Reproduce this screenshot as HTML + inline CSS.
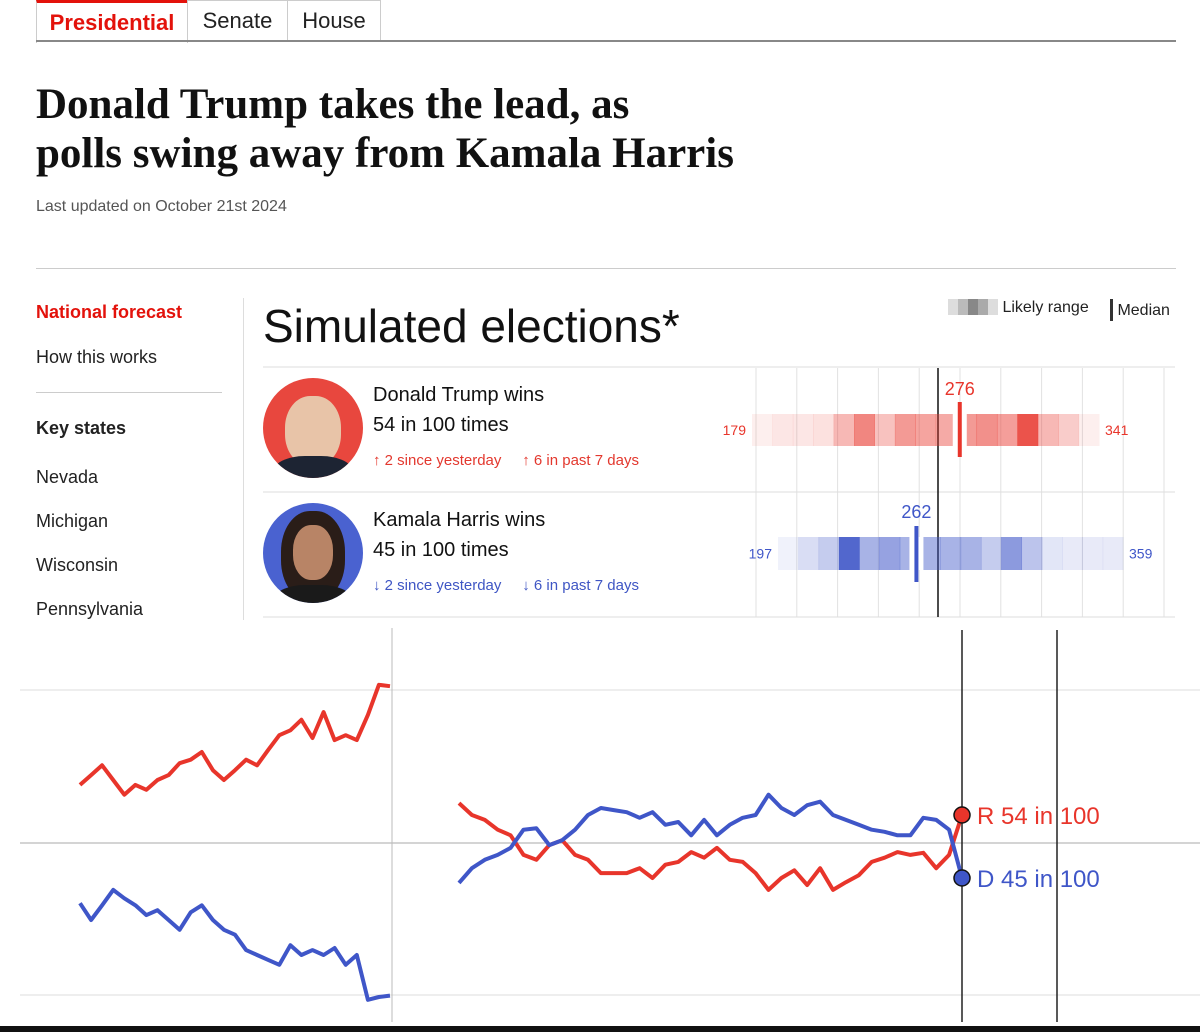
<!DOCTYPE html>
<html><head><meta charset="utf-8"><style>
body{margin:0;width:1200px;height:1032px;background:#fff;position:relative;overflow:hidden;font-family:"Liberation Sans",sans-serif;}
.a{position:absolute;}
.tab{position:absolute;top:0;height:40px;border:1px solid #ccc;border-bottom:none;font-size:22px;line-height:40px;text-align:center;color:#222;}
.serif{font-family:"Liberation Serif",serif;}
.nav{position:absolute;left:36px;font-size:18px;color:#222;}
</style></head><body>
<div class="tab" style="left:36px;width:150px;color:#e3120b;font-weight:bold;border-top:3px solid #e3120b;">Presidential</div>
<div class="tab" style="left:187px;width:99px;">Senate</div>
<div class="tab" style="left:287px;width:92px;">House</div>
<div class="a" style="left:36px;top:40px;width:1140px;height:2px;background:#888;"></div>
<div class="a serif" style="left:36px;top:80px;font-size:43px;font-weight:bold;line-height:49px;color:#111;">Donald Trump takes the lead, as<br>polls swing away from Kamala Harris</div>
<div class="a" style="left:36px;top:198px;font-size:16px;color:#555;">Last updated on October 21st 2024</div>
<div class="a" style="left:36px;top:268px;width:1140px;height:1px;background:#ccc;"></div>
<div class="nav" style="top:302px;color:#e3120b;font-weight:bold;">National forecast</div>
<div class="nav" style="top:347px;">How this works</div>
<div class="a" style="left:36px;top:392px;width:186px;height:1px;background:#ccc;"></div>
<div class="nav" style="top:418px;font-weight:bold;">Key states</div>
<div class="nav" style="top:467px;">Nevada</div>
<div class="nav" style="top:511px;">Michigan</div>
<div class="nav" style="top:555px;">Wisconsin</div>
<div class="nav" style="top:599px;">Pennsylvania</div>
<div class="a" style="left:243px;top:298px;width:1px;height:322px;background:#ddd;"></div>
<div class="a" style="left:263px;top:299px;font-size:46px;color:#111;">Simulated elections*</div>
<div class="a" style="left:948px;top:299px;font-size:16px;color:#222;"><span style="display:inline-block;width:50px;height:16px;vertical-align:-3px;background:linear-gradient(90deg,#ddd 0 20%,#bbb 20% 40%,#888 40% 60%,#aaa 60% 80%,#ddd 80%);"></span> Likely range</div>
<div class="a" style="left:1110px;top:299px;font-size:16px;color:#222;"><span style="display:inline-block;width:3px;height:22px;background:#333;vertical-align:-6px;"></span> Median</div>

<svg class="a" style="left:0;top:0" width="1200" height="1032">
<g id="topg"></g><g id="botg"></g>
</svg>

<div class="a" style="left:263px;top:378px;width:100px;height:100px;border-radius:50%;background:#e8473e;overflow:hidden;"><div style="position:absolute;left:22px;top:18px;width:56px;height:70px;border-radius:45%;background:#e8c4a8;"></div><div style="position:absolute;left:10px;top:78px;width:80px;height:40px;border-radius:40%;background:#1d2433;"></div></div>
<div class="a" style="left:263px;top:503px;width:100px;height:100px;border-radius:50%;background:#4a62d0;overflow:hidden;"><div style="position:absolute;left:18px;top:8px;width:64px;height:90px;border-radius:45%;background:#2a1d18;"></div><div style="position:absolute;left:30px;top:22px;width:40px;height:55px;border-radius:45%;background:#b88466;"></div><div style="position:absolute;left:10px;top:82px;width:80px;height:40px;border-radius:40%;background:#1a1a1a;"></div></div>
<div class="a" style="left:373px;top:380px;font-size:20px;line-height:30px;color:#111;">Donald Trump wins<br>54 in 100 times</div>
<div class="a" style="left:373px;top:452px;font-size:15px;color:#e3382e;">↑ 2 since yesterday &nbsp;&nbsp;&nbsp; ↑ 6 in past 7 days</div>
<div class="a" style="left:373px;top:505px;font-size:20px;line-height:30px;color:#111;">Kamala Harris wins<br>45 in 100 times</div>
<div class="a" style="left:373px;top:577px;font-size:15px;color:#3f56c4;">↓ 2 since yesterday &nbsp;&nbsp;&nbsp; ↓ 6 in past 7 days</div>
<div class="a" style="left:0;top:1026px;width:1200px;height:6px;background:#111;"></div>

<script>
// Simulated electoral-vote distributions
const redRange=[179,341], redMedian=276;
const redShades=[0.08,0.12,0.12,0.15,0.35,0.6,0.3,0.5,0.45,0.42,0.5,0.55,0.48,0.85,0.35,0.25,0.08];
const blueRange=[197,359], blueMedian=262;
const blueShades=[0.08,0.2,0.3,0.9,0.45,0.55,0.45,0.45,0.45,0.45,0.3,0.6,0.35,0.15,0.12,0.12,0.12];
// Win-probability history (R / D, per 100)
const rightRed=[55.7,54,53.3,51.9,51.1,48.3,47.6,49.7,50.4,48.3,47.6,45.7,45.7,45.7,46.4,45,46.9,47.3,48.7,47.9,49.3,47.6,47.3,45.7,43.3,45,46.1,44,46.4,43.3,44.4,45.4,47.3,47.9,48.7,48.3,48.6,46.4,48.3,54];
const rightBlue=[44.3,46.4,47.6,48.3,49.3,51.9,52.1,49.7,50.4,51.9,54,55,54.7,54.4,53.6,54.4,52.6,53,51.1,53.3,51.1,52.6,53.6,54,56.9,55,54,55.4,55.9,54,53.3,52.6,51.9,51.6,51.1,51.1,53.6,53.3,51.9,45];
const leftRed=[58.3,59.7,61.1,59,56.9,58.3,57.6,59,59.7,61.4,61.9,63,60.4,59,60.4,61.9,61.1,63.3,65.4,66.1,67.6,65,68.7,64.7,65.4,64.7,68.3,72.6,72.4];
const leftBlue=[41.4,39,41.1,43.3,42.1,41.1,39.7,40.4,39,37.6,40.1,41.1,39,37.6,36.9,34.7,34,33.3,32.6,35.4,34,34.7,34,35,32.6,34,27.6,28,28.2];

const NS='http://www.w3.org/2000/svg';
function mk(tag,attrs,parent,txt){const e=document.createElementNS(NS,tag);for(const k in attrs)e.setAttribute(k,attrs[k]);if(txt!==undefined)e.textContent=txt;parent.appendChild(e);return e;}
const gTop=document.getElementById('topg'), gBot=document.getElementById('botg');
for(let i=0;i<11;i++){const l=mk('line',{x1:756+i*40.8,x2:756+i*40.8,y1:368,y2:617,stroke:'#e2e2e2'},gTop);}
[367,492,617].forEach(y=>{const l=mk('line',{x1:263,x2:1175,y1:y,y2:y,stroke:'#ddd'},gTop);});
const l270=mk('line',{x1:938,x2:938,y1:368,y2:617,stroke:'#111','stroke-width':1.5},gTop);

function bar(range,shades,median,px0,px1,col,y,h,my1,my2,lblY,name){
  const sx=v=>px0+(v-range[0])*(px1-px0)/(range[1]-range[0]);
  const x0=sx(range[0]),x1=sx(range[1]),w=(x1-x0)/shades.length;
  shades.forEach((s,i)=>{const r=mk('rect',{x:x0+i*w,y:y,width:w+0.5,height:h,fill:col,'fill-opacity':s},gTop);});
  const mx=sx(median);
  mk('rect',{x:mx-7,y:y,width:14,height:h,fill:'#fff'},gTop);
  const m=mk('rect',{x:mx-2,y:my1,width:4,height:my2-my1,fill:col},gTop);
  const t=mk('text',{x:mx,y:lblY,'text-anchor':'middle','font-size':18,fill:col},gTop,median);
  const a=mk('text',{x:x0-6,y:y+h/2+5,'text-anchor':'end','font-size':14,fill:col},gTop,range[0]);
  const b=mk('text',{x:x1+6,y:y+h/2+5,'font-size':14,fill:col},gTop,range[1]);
}
bar(redRange,redShades,redMedian,752,1099,'#e8352b',414,32,402,457,395,'trump');
bar(blueRange,blueShades,blueMedian,778,1123,'#3f56c8',537,33,526,582,518,'harris');

const vy=v=>843-(v-50)*7;
[690,995].forEach(y=>{const l=mk('line',{x1:20,x2:1200,y1:y,y2:y,stroke:'#ddd'},gBot);});
const c=mk('line',{x1:20,x2:1200,y1:843,y2:843,stroke:'#aaa'},gBot);
const dv=mk('line',{x1:392,x2:392,y1:628,y2:1022,stroke:'#bbb'},gBot);
[962,1057].forEach(x=>{const l=mk('line',{x1:x,x2:x,y1:630,y2:1022,stroke:'#222','stroke-width':1.5},gBot);});
function series(vals,xa,xb,col,name){
  const step=(xb-xa)/(vals.length-1);
  const d=vals.map((v,i)=>(i?'L':'M')+(xa+i*step).toFixed(1)+','+vy(v).toFixed(1)).join('');
  const p=mk('path',{d:d,fill:'none',stroke:col,'stroke-width':4,'stroke-linejoin':'round'},gBot);
  
}
series(leftRed,80,390,'#e8352b','left-red-line');
series(leftBlue,80,390,'#3f56c8','left-blue-line');
series(rightRed,459,962,'#e8352b','right-red-line');
series(rightBlue,459,962,'#3f56c8','right-blue-line');
const rEnd=rightRed[rightRed.length-1], dEnd=rightBlue[rightBlue.length-1];
const rd=mk('circle',{cx:962,cy:vy(rEnd),r:8,fill:'#e8352b',stroke:'#111','stroke-width':1.5},gBot);
const dd=mk('circle',{cx:962,cy:vy(dEnd),r:8,fill:'#3f56c8',stroke:'#111','stroke-width':1.5},gBot);
const rt=mk('text',{x:977,y:vy(rEnd)+9,'font-size':24,fill:'#e8352b'},gBot,'R '+Math.round(rEnd)+' in 100');
const dt=mk('text',{x:977,y:vy(dEnd)+9,'font-size':24,fill:'#3f56c8'},gBot,'D '+Math.round(dEnd)+' in 100');
</script>
</body></html>
